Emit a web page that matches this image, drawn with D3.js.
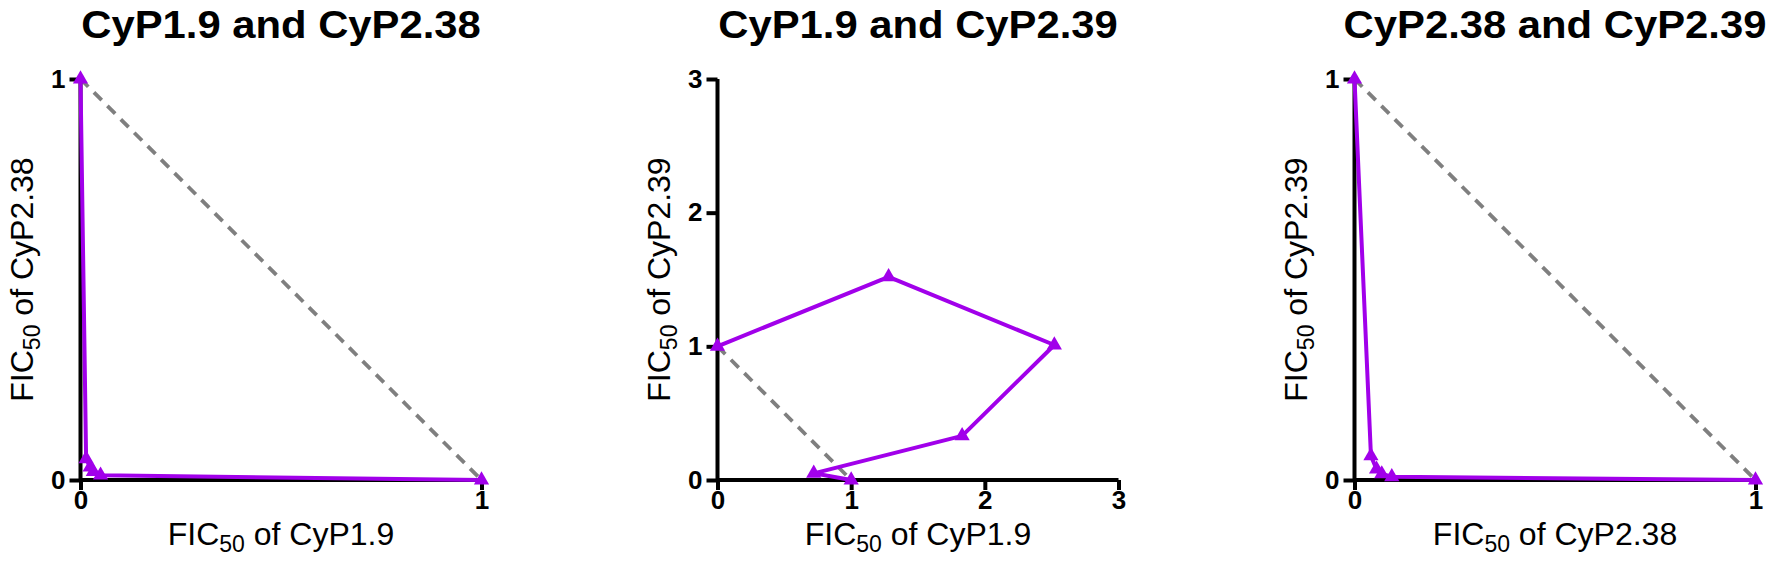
<!DOCTYPE html>
<html>
<head>
<meta charset="utf-8">
<script src="https://cdn.jsdelivr.net/npm/d3@7"></script>
<style>
  html, body { margin: 0; padding: 0; background: #fff; }
  svg { display: block; }
  text { font-family: "Liberation Sans", Arial, Helvetica, sans-serif; }
</style>
</head>
<body>
<svg id="chart" width="1772" height="581"></svg>
<script>
// ---- Data ----
const titles = ["CyP1.9 and CyP2.38", "CyP1.9 and CyP2.39", "CyP2.38 and CyP2.39"];
const xNames = ["CyP1.9", "CyP1.9", "CyP2.38"];
const yNames = ["CyP2.38", "CyP2.39", "CyP2.39"];

const p1x = [0, 0.014, 0.024, 0.032, 0.050, 1];
const p1y = [1, 0.053, 0.032, 0.021, 0.012, 0];

const p2x = [0, 1.28, 2.52, 1.83, 0.72, 1];
const p2y = [1, 1.52, 1.01, 0.33, 0.05, 0];

const p3x = [0, 0.041, 0.055, 0.068, 0.093, 1];
const p3y = [1, 0.060, 0.027, 0.015, 0.008, 0];

const additiveX = [0, 1];
const additiveY = [1, 0];

const axisMax = [1, 3, 1];
const tickVals1 = [0, 1];
const tickVals3 = [0, 1, 2, 3];
const tickSets = [tickVals1, tickVals3, tickVals1];

const seriesX = [p1x, p2x, p3x];
const seriesY = [p1y, p2y, p3y];

// ---- Layout ----
const purple = "#a100ea";
const grey = "#7f7f7f";
const panelLeft = [80.5, 717.5, 1354.5];
const plotW = 401, plotTop = 79, plotBottom = 480;

const svg = d3.select("#chart");

for (let i = 0; i < 3; i++) {
  const x = d3.scaleLinear().domain([0, axisMax[i]]).range([panelLeft[i], panelLeft[i] + plotW]);
  const y = d3.scaleLinear().domain([0, axisMax[i]]).range([plotBottom, plotTop]);
  const g = svg.append("g");
  const cx = (x.range()[0] + x.range()[1]) / 2;

  // title
  g.append("text")
    .attr("transform", `translate(${cx},38) scale(1.1,1)`)
    .attr("text-anchor", "middle")
    .attr("font-size", 38)
    .attr("font-weight", "bold")
    .attr("fill", "#000")
    .text(titles[i]);

  // additive dashed line
  g.append("path")
    .datum(additiveX.map((v, k) => [v, additiveY[k]]))
    .attr("d", d3.line().x(d => x(d[0])).y(d => y(d[1])))
    .attr("fill", "none")
    .attr("stroke", grey)
    .attr("stroke-width", 3.8)
    .attr("stroke-dasharray", "11,8");

  // axes
  const xAxis = d3.axisBottom(x).tickValues(tickSets[i]).tickSize(10).tickPadding(1).tickFormat(d3.format("d"));
  const yAxis = d3.axisLeft(y).tickValues(tickSets[i]).tickSize(11).tickPadding(4).tickFormat(d3.format("d"));

  const gx = g.append("g").attr("transform", `translate(0,${plotBottom})`).call(xAxis);
  const gy = g.append("g").attr("transform", `translate(${panelLeft[i]},0)`).call(yAxis);
  [gx, gy].forEach(a => {
    a.select(".domain").attr("stroke", "#000").attr("stroke-width", 4);
    a.selectAll(".tick line").attr("stroke", "#000").attr("stroke-width", 4);
    a.selectAll(".tick text")
      .attr("fill", "#000")
      .attr("font-size", 26)
      .attr("font-weight", "bold")
      .attr("font-family", "'Liberation Sans', Arial, sans-serif");
  });
  gx.select(".domain").attr("d", `M${x.range()[0]},0H${x.range()[1]}`);
  gy.select(".domain").attr("d", `M0,${plotBottom}V${plotTop}`);

  // x label
  const xl = g.append("text")
    .attr("x", cx)
    .attr("y", 545)
    .attr("text-anchor", "middle")
    .attr("font-size", 32)
    .attr("fill", "#000");
  xl.append("tspan").text("FIC");
  xl.append("tspan").attr("font-size", 23).attr("dy", 7).text("50");
  xl.append("tspan").attr("dy", -7).text(" of " + xNames[i]);

  // y label
  const cy = (plotTop + plotBottom) / 2;
  const lx = panelLeft[i] - 48;
  const yl = g.append("text")
    .attr("transform", `translate(${lx},${cy}) rotate(-90)`)
    .attr("text-anchor", "middle")
    .attr("font-size", 32)
    .attr("fill", "#000");
  yl.append("tspan").text("FIC");
  yl.append("tspan").attr("font-size", 23).attr("dy", 7).text("50");
  yl.append("tspan").attr("dy", -7).text(" of " + yNames[i]);

  // data line
  const pts = seriesX[i].map((v, k) => [v, seriesY[i][k]]);
  g.append("path")
    .datum(pts)
    .attr("d", d3.line().x(d => x(d[0])).y(d => y(d[1])))
    .attr("fill", "none")
    .attr("stroke", purple)
    .attr("stroke-width", 4)
    .attr("stroke-linejoin", "round");

  g.selectAll(".pt")
    .data(pts)
    .enter().append("path")
    .attr("transform", d => `translate(${x(d[0])},${y(d[1])})`)
    .attr("d", d3.symbol().type(d3.symbolTriangle).size(100))
    .attr("fill", purple);
}
</script>
</body>
</html>
